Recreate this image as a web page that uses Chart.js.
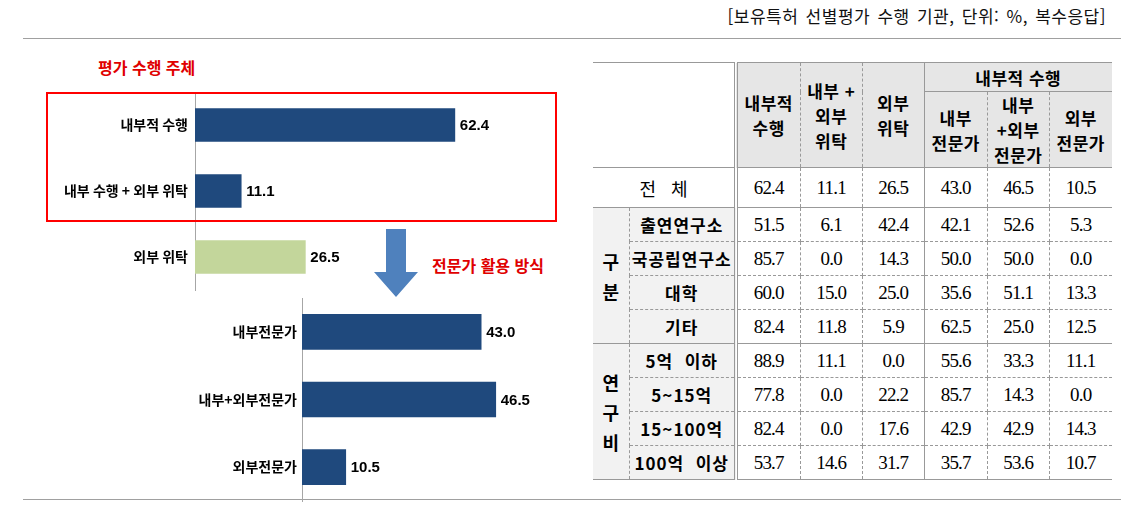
<!DOCTYPE html>
<html lang="ko">
<head>
<meta charset="utf-8">
<script src="https://cdn.jsdelivr.net/npm/chart.js@4.4.1/dist/chart.umd.min.js"></script>
<style>
  body { margin: 0; width: 1144px; height: 523px; background: #fff; position: relative; overflow: hidden;
         font-family: "Noto Sans CJK KR", sans-serif; color: #000; }
  .rule { position: absolute; left: 23px; width: 1098px; border-top: 1px solid #a0a0a0; }
  .caption { position: absolute; right: 38px; top: 5px; font-size: 17px; line-height: 22px; letter-spacing: 0.5px; word-spacing: 2px; color: #111; }
  .redtitle { position: absolute; font-size: 16px; line-height: 20px; font-weight: bold; color: #e00000; }
  canvas { position: absolute; }
  #box { position: absolute; left: 46px; top: 92px; width: 511px; height: 130px; border: 2px solid #ff0000; box-sizing: border-box; }
  #arrow { position: absolute; left: 374px; top: 229px; width: 44px; height: 68px; background: #4f81bd;
           clip-path: polygon(12px 0, 32px 0, 32px 43px, 44px 43px, 22px 68px, 0 43px, 12px 43px); }
  #tbl { position: absolute; left: 593px; top: 62px; width: 519px; border-collapse: collapse; table-layout: fixed;
         border-top: 1px solid #999; border-bottom: 1px solid #999; }
  #tbl td { padding: 0; text-align: center; vertical-align: middle; white-space: pre-line; }
  #tbl .hd { background: #e6e6e6; font-size: 17px; line-height: 25px; letter-spacing: 0.5px; font-weight: bold; }
  #tbl .lab { background: #f2f2f2; font-size: 17px; letter-spacing: 1px; font-weight: bold; }
  #tbl .grp { background: #f2f2f2; font-size: 18px; line-height: 30px; font-weight: bold; border-right: 1px dashed #999; }
  #tbl .num { font-family: "Liberation Serif", serif; font-size: 19px; letter-spacing: -0.8px; }
  #tbl .dbl { border-right: 4px double #999; }
  #tbl .dash { border-right: 1px dashed #999; }
  #tbl .solid { border-right: 1px solid #999; }
  #tbl tr.bd td { border-bottom: 1px dashed #999; }
  #tbl tr.bs td { border-bottom: 1px solid #999; }
</style>
</head>
<body>
<div class="rule" style="top:38px"></div>
<div class="rule" style="top:499px"></div>
<div class="caption">[보유특허 선별평가 수행 기관, 단위: %, 복수응답]</div>

<div class="redtitle" style="left:98px; top:57px">평가 수행 주체</div>
<div class="redtitle" style="left:432px; top:255px">전문가 활용 방식</div>

<canvas id="subjectChart" width="479" height="220" style="left:20px; top:80px"></canvas>
<canvas id="expertChart" width="557" height="213" style="left:20px; top:290px"></canvas>
<div id="box"></div>
<div id="arrow"></div>

<table id="tbl"></table>

<script>
// left charts
const subjectLabels = ["내부적 수행", "내부 수행 + 외부 위탁", "외부 위탁"];
const subjectValues = [62.4, 11.1, 26.5];
const expertLabels = ["내부전문가", "내부+외부전문가", "외부전문가"];
const expertValues = [43.0, 46.5, 10.5];

// table
const tableHeads = ["내부적\n수행", "내부 +\n외부\n위탁", "외부\n위탁"];
const tableGroupHead = "내부적 수행";
const tableSubHeads = ["내부\n전문가", "내부\n+외부\n전문가", "외부\n전문가"];
const totalLabel = "전   체";
const groupNames = ["구\n분", "연\n구\n비"];
const rowLabels = [
  ["출연연구소", "국공립연구소", "대학", "기타"],
  ["5억  이하", "5~15억", "15~100억", "100억  이상"]
];
const rowValues = [
  [[51.5, 6.1, 42.4, 42.1, 52.6, 5.3],
   [85.7, 0.0, 14.3, 50.0, 50.0, 0.0],
   [60.0, 15.0, 25.0, 35.6, 51.1, 13.3],
   [82.4, 11.8, 5.9, 62.5, 25.0, 12.5]],
  [[88.9, 11.1, 0.0, 55.6, 33.3, 11.1],
   [77.8, 0.0, 22.2, 85.7, 14.3, 0.0],
   [82.4, 0.0, 17.6, 42.9, 42.9, 14.3],
   [53.7, 14.6, 31.7, 35.7, 53.6, 10.7]]
];
const totalValues = subjectValues.concat(expertValues);

const navy = "#1f497d";
const green = "#c3d69b";

const valueLabels = {
  id: "valueLabels",
  afterDatasetsDraw(chart) {
    const ctx = chart.ctx;
    const values = chart.data.datasets[0].data;
    ctx.save();
    ctx.font = 'bold 15px "Liberation Sans Narrow", "Liberation Sans", Arial, sans-serif';
    ctx.fillStyle = "#000";
    ctx.textBaseline = "middle";
    chart.getDatasetMeta(0).data.forEach((bar, i) => {
      ctx.fillText(values[i].toFixed(1), bar.x + 5, bar.y + 1);
    });
    ctx.restore();
  }
};

function barChart(id, labels, values, colors, o) {
  return new Chart(document.getElementById(id), {
    type: "bar",
    data: { labels: labels, datasets: [{ data: values, backgroundColor: colors, barThickness: o.thickness }] },
    options: {
      indexAxis: "y",
      responsive: false,
      animation: false,
      layout: { padding: { top: o.padTop, bottom: o.padBottom, left: 0, right: 0 } },
      plugins: { legend: { display: false }, tooltip: { enabled: false } },
      scales: {
        x: { display: false, min: 0, max: o.max },
        y: {
          afterFit: s => {
            s.width = o.axisWidth;
            s.paddingTop = 0;
            s.paddingBottom = 0;
          },
          grid: { display: false, drawTicks: false },
          border: { display: true, color: "#a6a6a6", width: 1 },
          ticks: { padding: o.tickPad, color: "#000", font: { family: '"Noto Sans CJK KR"', size: 14, weight: "bold" } }
        }
      }
    },
    plugins: [valueLabels]
  });
}

barChart("subjectChart", subjectLabels, subjectValues, [navy, navy, green],
  { thickness: 33, padTop: 12, padBottom: 10, max: 73, axisWidth: 175, tickPad: 7 });
barChart("expertChart", expertLabels, expertValues, navy,
  { thickness: 35, padTop: 8, padBottom: 2, max: 66, axisWidth: 282, tickPad: 5 });

// build the table
const colWidths = [36, 107, 64, 62.5, 61.5, 63.5, 61.5, 63];
const dataBorder = ["dash", "dash", "solid", "dash", "dash", ""];
let html = "<colgroup>" + colWidths.map(w => `<col style="width:${w}px">`).join("") + "</colgroup>";
html += `<tr style="height:29px"><td colspan="2" rowspan="2" class="dbl" style="border-bottom:1px solid #999"></td>`;
tableHeads.forEach((h, i) => {
  html += `<td rowspan="2" class="hd ${dataBorder[i]}" style="border-bottom:1px solid #999">${h}</td>`;
});
html += `<td colspan="3" class="hd" style="border-bottom:1px solid #999">${tableGroupHead}</td></tr>`;
html += `<tr style="height:73px">`;
tableSubHeads.forEach((h, i) => {
  html += `<td class="hd ${dataBorder[i + 3]}" style="border-bottom:1px solid #999">${h}</td>`;
});
html += `</tr>`;
html += `<tr class="bs" style="height:40px"><td colspan="2" class="dbl" style="font-size:18px; white-space:pre">${totalLabel}</td>`;
totalValues.forEach((v, i) => { html += `<td class="num ${dataBorder[i]}">${v.toFixed(1)}</td>`; });
html += `</tr>`;
rowLabels.forEach((grp, g) => {
  grp.forEach((lab, r) => {
    const last = r === grp.length - 1;
    html += `<tr class="${last ? "bs" : "bd"}" style="height:34px">`;
    if (r === 0) html += `<td rowspan="${grp.length}" class="grp" style="border-bottom:1px solid #999">${groupNames[g]}</td>`;
    html += `<td class="lab dbl" style="white-space:pre">${lab}</td>`;
    rowValues[g][r].forEach((v, i) => { html += `<td class="num ${dataBorder[i]}">${v.toFixed(1)}</td>`; });
    html += `</tr>`;
  });
});
document.getElementById("tbl").innerHTML = html;
</script>
</body>
</html>
